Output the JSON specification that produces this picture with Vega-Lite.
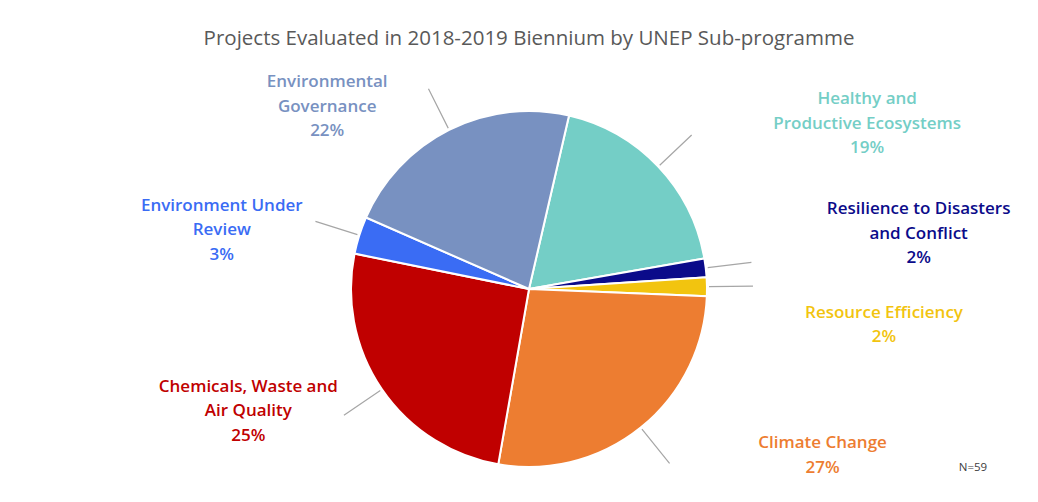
{
  "$schema": "https://vega.github.io/schema/vega-lite/v6.json",
  "width": 1018,
  "height": 422,
  "autosize": {"type": "none"},
  "padding": {"left": 20, "top": 78, "right": 0, "bottom": 2},
  "background": "white",
  "config": {"view": {"stroke": null}},
  "title": {
    "text": "Projects Evaluated in 2018-2019 Biennium by UNEP Sub-programme",
    "font": "Open Sans",
    "fontSize": 20.5,
    "fontWeight": "normal",
    "color": "#595959",
    "anchor": "middle",
    "offset": 24
  },
  "data": {
    "values": [
      {"rank": 1, "name": "Healthy and Productive Ecosystems", "count": 11, "label": "Healthy and\nProductive Ecosystems\n19%"},
      {"rank": 2, "name": "Resilience to Disasters and Conflict", "count": 1, "label": "Resilience to Disasters\nand Conflict\n2%"},
      {"rank": 3, "name": "Resource Efficiency", "count": 1, "label": "Resource Efficiency\n2%"},
      {"rank": 4, "name": "Climate Change", "count": 16, "label": "Climate Change\n27%"},
      {"rank": 5, "name": "Chemicals, Waste and Air Quality", "count": 15, "label": "Chemicals, Waste and\nAir Quality\n25%"},
      {"rank": 6, "name": "Environment Under Review", "count": 2, "label": "Environment Under\nReview\n3%"},
      {"rank": 7, "name": "Environmental Governance", "count": 13, "label": "Environmental\nGovernance\n22%"}
    ]
  },
  "transform": [
    {"stack": "count", "groupby": [], "sort": [{"field": "rank", "order": "ascending"}], "as": ["s0", "s1"]}
  ],
  "layer": [
    {
      "mark": {"type": "arc", "outerRadius": 178, "stroke": "white", "strokeWidth": 2},
      "encoding": {
        "theta": {"field": "s1", "type": "quantitative", "stack": null, "scale": {"zero": true, "nice": false, "range": [0.227, 6.510]}},
        "theta2": {"field": "s0"},
        "color": {
          "field": "name", "type": "nominal", "legend": null,
          "scale": {
            "domain": ["Healthy and Productive Ecosystems", "Resilience to Disasters and Conflict", "Resource Efficiency", "Climate Change", "Chemicals, Waste and Air Quality", "Environment Under Review", "Environmental Governance"],
            "range": ["#74CEC6", "#0B0B8A", "#F2C40F", "#ED7D31", "#C00000", "#3A6CF4", "#7891C1"]
          }
        }
      }
    },
    {
      "transform": [
        {"fold": ["s0", "s1"], "as": ["k", "v"]},
        {"aggregate": [{"op": "mean", "field": "v", "as": "mid"}], "groupby": ["name"]}
      ],
      "mark": {"type": "arc", "innerRadius": 180, "outerRadius": 224, "filled": false, "stroke": "#A6A6A6", "strokeWidth": 1.2},
      "encoding": {
        "theta": {"field": "mid", "type": "quantitative", "stack": null},
        "theta2": {"field": "mid"}
      }
    },
    {
      "transform": [
        {"fold": ["s0", "s1"], "as": ["k", "v"]},
        {"aggregate": [{"op": "mean", "field": "v", "as": "mid"}], "groupby": ["name", "label"]},
        {"filter": {"field": "name", "oneOf": ["Environmental Governance", "Environment Under Review", "Chemicals, Waste and Air Quality"]}}
      ],
      "mark": {"type": "text", "radius": 209, "dx": -108, "dy": -20, "lineBreak": "\n", "font": "Open Sans", "fontSize": 17, "fontWeight": 600, "lineHeight": 24.5, "align": "center", "baseline": "middle"},
      "encoding": {
        "theta": {"field": "mid", "type": "quantitative", "stack": null},
        "text": {"field": "label"},
        "color": {"field": "name", "type": "nominal", "legend": null}
      }
    },
    {
      "transform": [
        {"fold": ["s0", "s1"], "as": ["k", "v"]},
        {"aggregate": [{"op": "mean", "field": "v", "as": "mid"}], "groupby": ["name", "label"]},
        {"filter": {"field": "name", "oneOf": ["Healthy and Productive Ecosystems", "Resilience to Disasters and Conflict"]}}
      ],
      "mark": {"type": "text", "radius": 193, "dx": 198, "dy": -57, "lineBreak": "\n", "font": "Open Sans", "fontSize": 17, "fontWeight": 600, "lineHeight": 24.5, "align": "center", "baseline": "middle"},
      "encoding": {
        "theta": {"field": "mid", "type": "quantitative", "stack": null},
        "text": {"field": "label"},
        "color": {"field": "name", "type": "nominal", "legend": null}
      }
    },
    {
      "transform": [
        {"fold": ["s0", "s1"], "as": ["k", "v"]},
        {"aggregate": [{"op": "mean", "field": "v", "as": "mid"}], "groupby": ["name", "label"]},
        {"filter": {"field": "name", "oneOf": ["Resource Efficiency", "Climate Change"]}}
      ],
      "mark": {"type": "text", "radius": 165, "dx": 190, "dy": 26, "lineBreak": "\n", "font": "Open Sans", "fontSize": 17, "fontWeight": 600, "lineHeight": 24.5, "align": "center", "baseline": "middle"},
      "encoding": {
        "theta": {"field": "mid", "type": "quantitative", "stack": null},
        "text": {"field": "label"},
        "color": {"field": "name", "type": "nominal", "legend": null}
      }
    },
    {
      "data": {"values": [{"note": "N=59"}]},
      "mark": {"type": "text", "font": "Open Sans", "fontSize": 11.5, "color": "#404040", "align": "center", "baseline": "middle", "dx": -65, "dy": -32},
      "encoding": {
        "x": {"value": "width"},
        "y": {"value": "height"},
        "text": {"field": "note"}
      }
    }
  ]
}
